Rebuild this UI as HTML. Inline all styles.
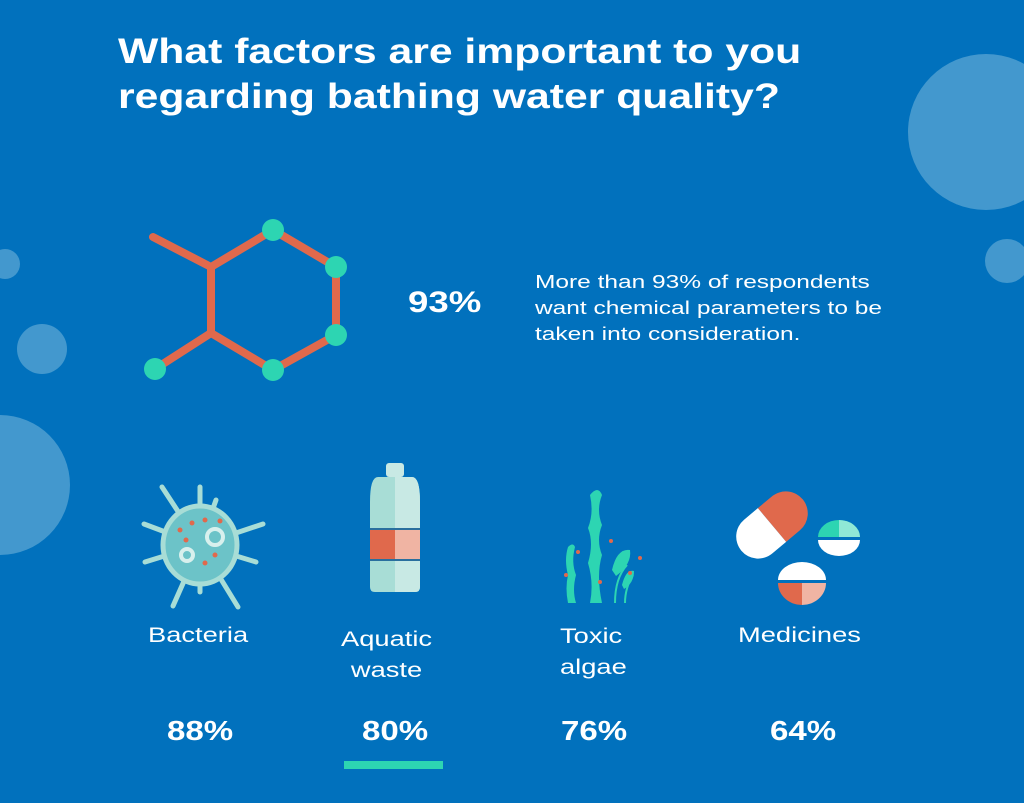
<!DOCTYPE html>
<html><head><style>
body{margin:0;width:1024px;height:803px;overflow:hidden;background:#0171bd;font-family:"Liberation Sans",sans-serif;color:#fff;position:relative}
.t{position:absolute;white-space:nowrap;transform-origin:0 0}
</style></head><body>
<svg width="1024" height="803" style="position:absolute;left:0;top:0">
<g fill="#5aa6d4" opacity="0.75">
<circle cx="986" cy="132" r="78"/><circle cx="1007" cy="261" r="22"/><circle cx="5" cy="264" r="15"/><circle cx="42" cy="349" r="25"/><circle cx="0" cy="485" r="70"/>
</g>
<g stroke="#e0694c" stroke-width="8" fill="none" stroke-linecap="round">
<polygon points="273,230 336,267 336,335 273,370 211,333 211,267"/>
<line x1="211" y1="267" x2="153" y2="237"/><line x1="211" y1="333" x2="155" y2="369"/>
</g>
<g fill="#2dd5b2"><circle cx="273" cy="230" r="11"/><circle cx="336" cy="267" r="11"/><circle cx="336" cy="335" r="11"/><circle cx="273" cy="370" r="11"/><circle cx="155" cy="369" r="11"/></g>
<!-- bacteria -->
<g stroke="#a8ddd6" stroke-width="5" stroke-linecap="round">
<line x1="200" y1="545" x2="162" y2="487"/><line x1="200" y1="545" x2="200" y2="487"/><line x1="200" y1="545" x2="216" y2="500"/>
<line x1="200" y1="545" x2="144" y2="524"/><line x1="200" y1="545" x2="263" y2="524"/><line x1="200" y1="545" x2="145" y2="562"/>
<line x1="200" y1="545" x2="256" y2="562"/><line x1="200" y1="545" x2="173" y2="606"/><line x1="200" y1="545" x2="238" y2="607"/><line x1="200" y1="545" x2="200" y2="592"/>
</g>
<ellipse cx="200" cy="545" rx="37" ry="39" fill="#6cc3c8" stroke="#a8ddd6" stroke-width="5"/>
<circle cx="187" cy="555" r="6" fill="none" stroke="#d8f0ed" stroke-width="4"/><circle cx="215" cy="537" r="8" fill="none" stroke="#d8f0ed" stroke-width="4"/>
<g fill="#e0694c"><circle cx="192" cy="523" r="2.5"/><circle cx="205" cy="520" r="2.5"/><circle cx="180" cy="530" r="2.5"/><circle cx="186" cy="540" r="2.5"/><circle cx="205" cy="563" r="2.5"/><circle cx="215" cy="555" r="2.5"/><circle cx="220" cy="521" r="2.5"/></g>
<!-- bottle -->
<rect x="386" y="463" width="18" height="14" rx="3" fill="#c8e9e4"/>
<path d="M378,477 h34 q8,0 8,25 v85 q0,5 -5,5 h-40 q-5,0 -5,-5 v-85 q0,-25 8,-25z" fill="#a8ddd6"/>
<path d="M395,477 h17 q8,0 8,25 v85 q0,5 -5,5 h-20z" fill="#c8e9e4"/>
<rect x="370" y="529" width="25" height="30" fill="#e0694c"/><rect x="395" y="529" width="25" height="30" fill="#f0b4a3"/>
<rect x="370" y="528" width="50" height="2" fill="#2a6f9e"/><rect x="370" y="559" width="50" height="2" fill="#2a6f9e"/>
<!-- algae -->
<g fill="#2dd5b2"><path d="M590,495 q8,-10 12,0 q-6,15 0,30 q-6,15 0,30 q-6,20 0,48 h-12 q4,-20 -2,-40 q6,-20 0,-35 q6,-15 2,-33z"/>
<path d="M568,547 q5,-5 7,0 q-4,15 1,28 q-4,15 0,28 h-8 q-3,-15 0,-28 q-4,-15 0,-28z"/>
<path d="M612,570 q5,-22 18,-20 q2,14 -14,26z"/><path d="M622,585 q4,-16 12,-14 q0,12 -10,18z"/></g>
<g stroke="#2dd5b2" stroke-width="2" fill="none"><path d="M615,603 q0,-25 12,-38"/><path d="M625,603 q0,-15 8,-28"/></g>
<g fill="#e0694c"><circle cx="566" cy="575" r="2"/><circle cx="578" cy="552" r="2"/><circle cx="611" cy="541" r="2"/><circle cx="640" cy="558" r="2"/><circle cx="630" cy="573" r="2"/><circle cx="600" cy="582" r="2"/></g>
<!-- medicines -->
<g transform="rotate(-40 772 525)"><path d="M772,503 h18 a22,22 0 0 1 0,44 h-18z" fill="#e0694c"/><path d="M772,503 h-18 a22,22 0 0 0 0,44 h18z" fill="#fff"/></g>
<path d="M818,537 a21,17 0 0 1 42,0z" fill="#2dd5b2"/><path d="M839,520 a21,17 0 0 1 21,17 h-21z" fill="#8fe8d6"/><path d="M818,540 a21,16 0 0 0 42,0z" fill="#fff"/>
<path d="M778,580 a24,18 0 0 1 48,0z" fill="#fff"/><path d="M778,583 a24,22 0 0 0 24,22 v-22z" fill="#e0694c"/><path d="M802,583 h24 a24,22 0 0 1 -24,22z" fill="#f0b4a3"/>
<rect x="344" y="761" width="99" height="8" fill="#2dd5b2"/>
</svg>
<div class="t" style="left:118px;top:29px;font-size:35px;font-weight:bold;line-height:45px;transform:scaleX(1.22)">What factors are important to you<br>regarding bathing water quality?</div>
<div class="t" style="left:408px;top:286px;font-size:30px;font-weight:bold;transform:scaleX(1.22)">93%</div>
<div class="t" style="left:535px;top:269px;font-size:18px;line-height:26px;transform:scaleX(1.36)">More than 93% of respondents<br>want chemical parameters to be<br>taken into consideration.</div>
<div class="t" style="left:148px;top:624px;font-size:21px;transform:scaleX(1.3)">Bacteria</div>
<div class="t" style="left:341px;top:624px;font-size:21px;line-height:31px;text-align:center;transform:scaleX(1.3)">Aquatic<br>waste</div>
<div class="t" style="left:560px;top:621px;font-size:21px;line-height:31px;transform:scaleX(1.3)">Toxic<br>algae</div>
<div class="t" style="left:738px;top:624px;font-size:21px;transform:scaleX(1.3)">Medicines</div>
<div class="t" style="left:167px;top:715px;font-size:28px;font-weight:bold;transform:scaleX(1.18)">88%</div>
<div class="t" style="left:362px;top:715px;font-size:28px;font-weight:bold;transform:scaleX(1.18)">80%</div>
<div class="t" style="left:561px;top:715px;font-size:28px;font-weight:bold;transform:scaleX(1.18)">76%</div>
<div class="t" style="left:770px;top:715px;font-size:28px;font-weight:bold;transform:scaleX(1.18)">64%</div>
</body></html>
